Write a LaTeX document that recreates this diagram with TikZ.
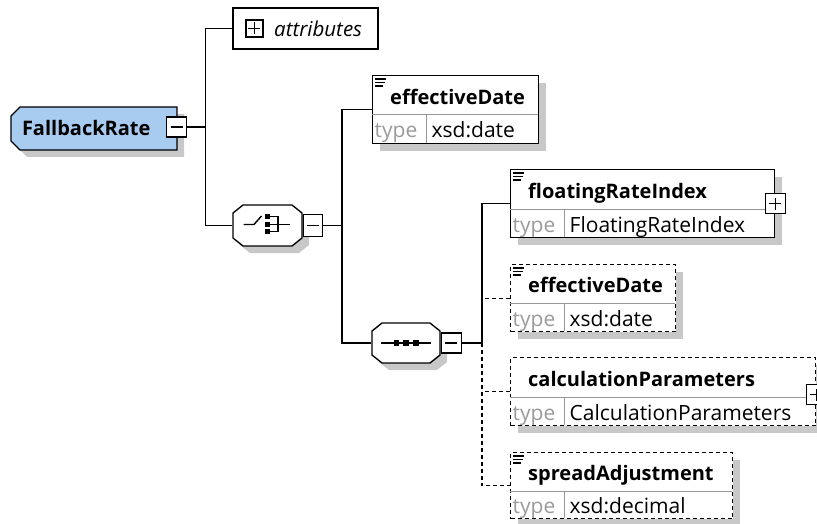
\documentclass[tikz,border=0pt]{standalone}
\usepackage{fontspec}
\setmainfont{Open Sans}
\usetikzlibrary{positioning,shadows}

\definecolor{rootblue}{RGB}{168,203,240}
\definecolor{shadowgray}{RGB}{200,200,200}
\definecolor{typegray}{RGB}{155,155,155}
\definecolor{sepgray}{RGB}{150,150,150}

\begin{document}
\begin{tikzpicture}[x=1pt, y=-1pt, line width=1.4pt,
  shade box/.style={drop shadow={shadow xshift=7pt, shadow yshift=-7pt, fill=shadowgray, opacity=1}},
  anchorbox/.style={rectangle, inner sep=0pt},
  octo/.style={draw, fill=white, shade box},
  attrbox/.style={rectangle, draw, fill=white, inner sep=0pt, minimum width=145pt, minimum height=41pt},
  elem/.style={rectangle, draw, fill=white, anchor=north west, inner sep=0pt, minimum height=68pt, shade box},
  optelem/.style={elem, dash pattern=on 4pt off 3pt},
  rootname/.style={anchor=west, inner sep=0pt, font=\bfseries\fontsize{20}{22}\selectfont},
  ename/.style={anchor=base west, inner sep=0pt, font=\bfseries\fontsize{20}{22}\selectfont},
  tlab/.style={anchor=base west, inner sep=0pt, text=typegray, font=\fontsize{21}{24}\selectfont},
  tval/.style={anchor=base west, inner sep=0pt, font=\fontsize{21}{24}\selectfont},
  sep/.style={draw=sepgray, line width=1pt, solid},
  doc/.style={line width=1.1pt, solid},
  icon/.style={line width=1.4pt},
  minusbox/.style={rectangle, draw, solid, fill=white, inner sep=0pt, minimum size=20pt,
    path picture={\draw[line width=1.2pt] ([xshift=-6pt]path picture bounding box.center) -- ([xshift=6pt]path picture bounding box.center);}},
  plusbox/.style={rectangle, draw, solid, fill=white, inner sep=0pt, minimum size=20pt,
    path picture={\draw[line width=1.2pt] ([xshift=-6pt]path picture bounding box.center) -- ([xshift=6pt]path picture bounding box.center)
      ([yshift=-6pt]path picture bounding box.center) -- ([yshift=6pt]path picture bounding box.center);}},
  optwire/.style={dash pattern=on 4pt off 3pt}]
\useasboundingbox[fill=white] (0,0) rectangle (817,524);

% root element
\node[anchorbox, minimum width=166pt, minimum height=43pt] (fb) at (94,128.5) {};
\begin{scope}[shift={(fb.center)}]
  \draw[octo, fill=rootblue] (-74,-21.5) -- (83,-21.5) -- (83,21.5) -- (-74,21.5) -- (-83,12.5) -- (-83,-12.5) -- cycle;
\end{scope}
\node[rootname] (fbname) at ([xshift=11pt]fb.west) {FallbackRate};
\node[minusbox] (fbminus) at ([xshift=-1pt,yshift=1.5pt]fb.east) {};

% attributes
\node[attrbox] (attr) at (305.5,28.5) {};
\node[plusbox, minimum size=17pt] (attrplus) at ([xshift=22pt]attr.west) {};
\node[anchor=west, inner sep=0pt, font=\itshape\fontsize{20.5}{23}\selectfont] (attrname) at ([xshift=10pt]attrplus.east) {attributes};

% choice
\node[anchorbox, minimum width=69pt, minimum height=41pt] (choice) at (267.5,225.5) {};
\begin{scope}[shift={(choice.center)}]
  \draw[octo] (-24.5,-20.5) -- (24.5,-20.5) -- (34.5,-12.5) -- (34.5,12.5) -- (24.5,20.5) -- (-24.5,20.5) -- (-34.5,12.5) -- (-34.5,-12.5) -- cycle;
  \draw[icon] (-24,-1) -- (-13.5,-1) -- (-6,-9.5);
  \fill (-2.5,-11.5) rectangle (2.5,-6.5);
  \fill (-2.5,-3.5) rectangle (2.5,1.5);
  \fill (-2.5,3.5) rectangle (2.5,8.5);
  \draw[icon] (2,-9) -- (10.5,-9) -- (10.5,6) -- (2,6);
  \draw[icon] (2,-1) -- (22,-1);
\end{scope}
\node[minusbox, right=0pt of choice, minimum width=19pt, minimum height=22pt] (chminus) {};

% sequence
\node[anchorbox, minimum width=68pt, minimum height=40pt] (seq) at (406,343) {};
\begin{scope}[shift={(seq.center)}]
  \draw[octo] (-24,-20) -- (24,-20) -- (34,-12) -- (34,12) -- (24,20) -- (-24,20) -- (-34,12) -- (-34,-12) -- cycle;
  \draw[icon] (-25,0) -- (25,0);
  \fill (-12.5,-2.8) rectangle (-7,2.8);
  \fill (-2.8,-2.8) rectangle (2.8,2.8);
  \fill (7,-2.8) rectangle (12.5,2.8);
\end{scope}
\node[minusbox, right=0pt of seq] (sqminus) {};

% effectiveDate (choice)
\node[elem, minimum width=166pt] (ed1) at (372,75) {};
\begin{scope}[shift={(ed1.north west)}]
  \draw[sep] (0,40) -- (166,40);
  \draw[sep] (54.5,40) -- (54.5,68);
  \draw[doc] (3,4) -- ++(11,0) (3,7.5) -- ++(10,0) (3,11) -- ++(8,0);
  \node[ename] (ed1name) at (17.5,29.5) {effectiveDate};
  \node[tlab] (ed1type) at (2,63) {type};
  \node[tval] (ed1val) at (59,63) {xsd:date};
\end{scope}

% floatingRateIndex
\node[elem, minimum width=264pt] (fri) at (510,169) {};
\begin{scope}[shift={(fri.north west)}]
  \draw[sep] (0,40) -- (264,40);
  \draw[sep] (54.5,40) -- (54.5,68);
  \draw[doc] (3,4) -- ++(11,0) (3,7.5) -- ++(10,0) (3,11) -- ++(8,0);
  \node[ename] (friname) at (17.5,29.5) {floatingRateIndex};
  \node[tlab] (fritype) at (2,63) {type};
  \node[tval] (frival) at (59,63) {FloatingRateIndex};
\end{scope}
\node[plusbox] (friplus) at (fri.east) {};

% effectiveDate (sequence)
\node[optelem, minimum width=165pt, minimum height=67pt] (ed2) at (510,264) {};
\begin{scope}[shift={(ed2.north west)}]
  \draw[sep] (0,39) -- (165,39);
  \draw[sep] (54.5,39) -- (54.5,67);
  \draw[doc] (3,4) -- ++(11,0) (3,7.5) -- ++(10,0) (3,11) -- ++(8,0);
  \node[ename] (ed2name) at (17.5,28.5) {effectiveDate};
  \node[tlab] (ed2type) at (2,62) {type};
  \node[tval] (ed2val) at (59,62) {xsd:date};
\end{scope}

% calculationParameters
\node[optelem, minimum width=305pt] (calc) at (510,357) {};
\begin{scope}[shift={(calc.north west)}]
  \draw[sep] (0,40) -- (305,40);
  \draw[sep] (54.5,40) -- (54.5,68);
  \node[ename] (calcname) at (17.5,29.5) {calculationParameters};
  \node[tlab] (calctype) at (2,63) {type};
  \node[tval] (calcval) at (59,63) {CalculationParameters};
\end{scope}
\node[plusbox] (calcplus) at ([yshift=-3pt]calc.east) {};

% spreadAdjustment
\node[optelem, minimum width=222pt, minimum height=66pt] (sa) at (510,452) {};
\begin{scope}[shift={(sa.north west)}]
  \draw[sep] (0,39) -- (222,39);
  \draw[sep] (54.5,39) -- (54.5,66);
  \draw[doc] (3,4) -- ++(11,0) (3,7.5) -- ++(10,0) (3,11) -- ++(8,0);
  \node[ename] (saname) at (17.5,28.5) {spreadAdjustment};
  \node[tlab] (satype) at (2,61) {type};
  \node[tval] (saval) at (59,61) {xsd:decimal};
\end{scope}

% connectors
\draw (fbminus.east) -- ++(18,0) coordinate (bus1);
\draw (attr.west) -| (bus1) |- (choice.west);
\draw (chminus.east) -- ++(19,0) coordinate (bus2);
\draw (ed1.west) -| (bus2) |- (seq.west);
\draw (sqminus.east) -- ++(20,0) coordinate (bus3);
\draw (fri.west) -| (bus3);
\draw[optwire] (bus3) |- (sa.west);
\draw[optwire] (ed2.west) -- (ed2.west -| bus3);
\draw[optwire] (calc.west) -- (calc.west -| bus3);
\end{tikzpicture}
\end{document}
